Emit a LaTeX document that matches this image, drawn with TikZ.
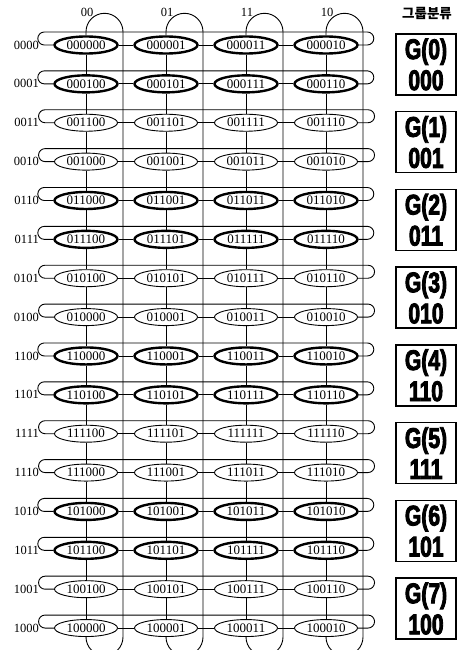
\documentclass[tikz,border=0pt]{standalone}
\usepackage{fontspec}
\setmainfont{Liberation Serif}
\newfontfamily\kofont{Noto Sans CJK KR}
\newfontfamily\grpfont[UprightFont={* Bold},FakeStretch=0.74,FakeBold=3]{Liberation Sans}
\usetikzlibrary{shapes.geometric,calc}

\begin{document}
\begin{tikzpicture}[x=1pt,y=1pt,
  cell/.style={draw,ellipse,inner sep=0pt,minimum width=63pt,minimum height=17pt,
               line width=0.9pt,font=\fontsize{13}{14}\selectfont},
  link/.style={line width=0.9pt},
  tag/.style={font=\fontsize{12.5}{14}\selectfont,inner sep=0pt},
  grpbox/.style={draw,line width=1.3pt,minimum width=60pt,minimum height=61pt,
                 inner sep=0pt,align=center,font=\grpfont\fontsize{28.5}{31}\selectfont}]
\clip (0,0) rectangle (462,-650);

% grid of cells, one row per 4-bit code
\foreach \r [count=\i from 0] in {0000,0001,0011,0010,0110,0111,0101,0100,
                                 1100,1101,1111,1110,1010,1011,1001,1000}{
  \pgfmathsetmacro\yy{-(45+38.87*\i)}
  \pgfmathtruncatemacro\grp{mod(floor(\i/2),2)}
  \ifnum\grp=0 \def\lw{2.4pt}\else\def\lw{0.9pt}\fi
  \node[tag,anchor=east] (lab\i) at (39,\yy) {\r};
  \foreach \c [count=\j from 0] in {00,01,11,10}
    \node[cell,line width=\lw] (c\i-\j) at (86+80*\j,\yy) {\r\c};
}

% column labels
\foreach \c [count=\j from 0] in {00,01,11,10}
  \node[tag] (col\j) at (87+80*\j,-12) {\c};

% row links with wrap-around
\foreach \i in {0,...,15}{
  \draw[link] (c\i-0) -- (c\i-1);
  \draw[link] (c\i-1) -- (c\i-2);
  \draw[link] (c\i-2) -- (c\i-3);
  \draw[link] (c\i-0.west) -- ++(-9,0) arc[start angle=270,end angle=90,radius=6.5]
    -- ++(323,0) arc[start angle=90,end angle=-90,radius=6.5] -- (c\i-3.east);
}

% column links with wrap-around
\foreach \j in {0,...,3}{
  \foreach \i [evaluate=\i as \k using int(\i+1)] in {0,...,14}
    \draw[link] (c\i-\j) -- (c\k-\j);
  \draw[link] (c0-\j.north) -- ++(0,3.5) arc[start angle=180,end angle=0,radius=18.5]
    -- ($(c15-\j.south)+(37,0)$) arc[start angle=0,end angle=-180,radius=18.5]
    -- (c15-\j.south);
}

% group classification
\node[font=\kofont\bfseries\fontsize{13.5}{15}\selectfont] (head) at (427,-14) {그룹분류};
\foreach \g/\b [count=\k from 0] in {0/000,1/001,2/011,3/010,4/110,5/111,6/101,7/100}{
  \pgfmathsetmacro\yy{-(64.4+77.74*\k)}
  \node[grpbox] (g\k) at (426,\yy) {G(\g)\\\b};
}
\end{tikzpicture}
\end{document}
